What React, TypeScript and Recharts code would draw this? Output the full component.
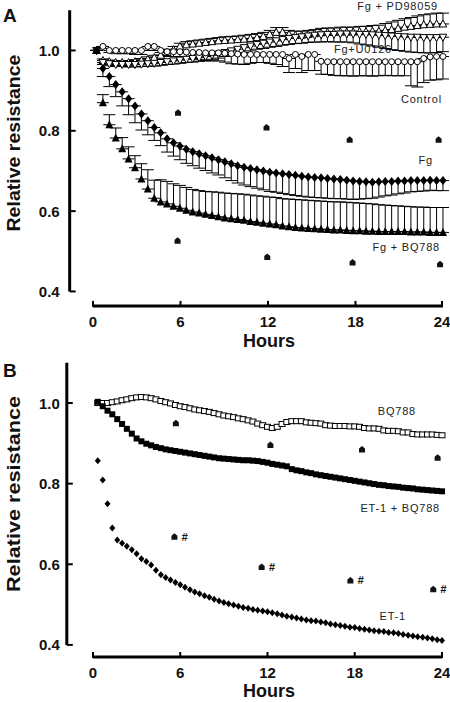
import { ScatterChart, Scatter, XAxis, YAxis, ErrorBar, ReferenceLine } from "recharts";

const FONT = "'Liberation Sans', Arial, sans-serif";

// ---- panel A: resistance readings (~every 26 min)
const hoursA = [
  0.24, 0.68, 1.12, 1.56, 2.0, 2.44, 2.88, 3.32, 3.76, 4.2,
  4.64, 5.08, 5.52, 5.96, 6.4, 6.84, 7.28, 7.72, 8.16, 8.6,
  9.04, 9.48, 9.92, 10.36, 10.8, 11.24, 11.68, 12.12, 12.56, 13.0,
  13.44, 13.88, 14.32, 14.76, 15.2, 15.64, 16.08, 16.52, 16.96, 17.4,
  17.84, 18.28, 18.72, 19.16, 19.6, 20.04, 20.48, 20.92, 21.36, 21.8,
  22.24, 22.68, 23.12, 23.56, 24.0,
];

const fgA = [
  1.0, 0.955, 0.935, 0.915, 0.897, 0.88, 0.862, 0.842, 0.825, 0.808,
  0.795, 0.78, 0.77, 0.762, 0.754, 0.748, 0.743, 0.738, 0.733, 0.728,
  0.723, 0.718, 0.713, 0.709, 0.706, 0.703, 0.7, 0.697, 0.695, 0.693,
  0.691, 0.689, 0.687, 0.685, 0.684, 0.683, 0.681, 0.68, 0.679, 0.677,
  0.675, 0.674, 0.673, 0.672, 0.673, 0.674, 0.674, 0.675, 0.675, 0.676,
  0.676, 0.676, 0.677, 0.676, 0.676,
];
const fgErrA = [
  0, 0.02, 0.025, 0.03, 0.035, 0.04, 0.042, 0.04, 0.035, 0.032,
  0.032, 0.033, 0.033, 0.034, 0.035, 0.035, 0.036, 0.037, 0.038, 0.038,
  0.04, 0.042, 0.043, 0.044, 0.045, 0.046, 0.047, 0.048, 0.048, 0.049,
  0.05, 0.05, 0.05, 0.05, 0.05, 0.05, 0.049, 0.049, 0.048, 0.047,
  0.046, 0.044, 0.042, 0.04, 0.038, 0.036, 0.034, 0.032, 0.03, 0.028,
  0.027, 0.026, 0.025, 0.025, 0.025,
];

const fgBqA = [
  1.0, 0.87, 0.815, 0.782, 0.755, 0.73, 0.708, 0.68, 0.655, 0.632,
  0.623, 0.618, 0.612, 0.607, 0.602, 0.598, 0.595, 0.592, 0.589, 0.586,
  0.583, 0.581, 0.579, 0.577, 0.574, 0.572, 0.57, 0.568, 0.566, 0.563,
  0.561, 0.559, 0.558, 0.557, 0.556, 0.555, 0.554, 0.553, 0.553, 0.552,
  0.551, 0.551, 0.55, 0.55, 0.549, 0.549, 0.549, 0.549, 0.549, 0.548,
  0.548, 0.548, 0.547, 0.547, 0.547,
];
const fgBqErrA = [
  0, 0.02, 0.025, 0.025, 0.028, 0.03, 0.03, 0.038, 0.048, 0.045,
  0.055, 0.056, 0.056, 0.057, 0.057, 0.056, 0.056, 0.057, 0.059, 0.061,
  0.062, 0.063, 0.064, 0.065, 0.066, 0.066, 0.067, 0.067, 0.068, 0.068,
  0.069, 0.07, 0.07, 0.07, 0.07, 0.07, 0.07, 0.07, 0.07, 0.07,
  0.07, 0.069, 0.069, 0.068, 0.067, 0.066, 0.065, 0.064, 0.063, 0.063,
  0.062, 0.062, 0.062, 0.062, 0.062,
];

const controlA = [
  1.0, 1.01, 1.0, 1.0, 1.0, 1.0, 1.0, 1.0, 1.01, 1.01,
  1.0, 0.997, 0.997, 0.997, 0.996, 0.995, 0.995, 0.994, 0.994, 0.994,
  0.993, 0.992, 0.991, 0.99, 0.99, 0.99, 0.99, 0.99, 0.99, 0.99,
  0.98, 0.99, 0.985, 0.99, 0.99, 0.973, 0.972, 0.972, 0.972, 0.972,
  0.972, 0.972, 0.972, 0.972, 0.972, 0.972, 0.972, 0.972, 0.972, 0.972,
  0.972, 0.98, 0.984, 0.985, 0.985,
];
const controlErrA = [
  0, 0.005, 0.005, 0.008, 0.008, 0.008, 0.01, 0.01, 0.01, 0.01,
  0.012, 0.012, 0.012, 0.012, 0.015, 0.015, 0.018, 0.02, 0.02, 0.02,
  0.022, 0.025, 0.025, 0.025, 0.022, 0.02, 0.02, 0.022, 0.025, 0.03,
  0.035, 0.035, 0.04, 0.04, 0.04, 0.032, 0.032, 0.034, 0.035, 0.035,
  0.036, 0.035, 0.035, 0.036, 0.035, 0.034, 0.035, 0.035, 0.035, 0.06,
  0.063, 0.06, 0.058, 0.058, 0.056,
];

const pdA = [
  1.0, 0.975, 0.972, 0.97, 0.97, 0.97, 0.972, 0.975, 0.978, 0.982,
  0.988, 0.995, 1.002, 1.01, 1.014, 1.016, 1.018, 1.02, 1.022, 1.024,
  1.025, 1.026, 1.027, 1.028, 1.03, 1.032, 1.035, 1.04, 1.045, 1.045,
  1.04, 1.038, 1.038, 1.04, 1.042, 1.044, 1.045, 1.045, 1.046, 1.046,
  1.046, 1.047, 1.047, 1.048, 1.048, 1.05, 1.052, 1.055, 1.058, 1.06,
  1.062, 1.064, 1.065, 1.066, 1.066,
];
const pdErrA = [
  0, 0.004, 0.004, 0.005, 0.005, 0.005, 0.005, 0.005, 0.006, 0.006,
  0.007, 0.008, 0.008, 0.008, 0.008, 0.008, 0.008, 0.008, 0.008, 0.008,
  0.009, 0.009, 0.009, 0.01, 0.01, 0.01, 0.01, 0.01, 0.012, 0.012,
  0.01, 0.01, 0.01, 0.01, 0.01, 0.011, 0.011, 0.011, 0.012, 0.012,
  0.012, 0.013, 0.013, 0.014, 0.015, 0.017, 0.019, 0.02, 0.021, 0.022,
  0.024, 0.025, 0.026, 0.027, 0.027,
];

const uoA = [
  1.0, 0.97, 0.967, 0.965, 0.965, 0.965, 0.965, 0.966, 0.967, 0.968,
  0.97, 0.972, 0.974, 0.976, 0.978, 0.98, 0.982, 0.985, 0.988, 0.991,
  0.995, 0.999, 1.003, 1.007, 1.011, 1.015, 1.018, 1.021, 1.024, 1.027,
  1.03, 1.032, 1.034, 1.036, 1.038, 1.039, 1.04, 1.04, 1.041, 1.041,
  1.041, 1.04, 1.04, 1.039, 1.038, 1.037, 1.036, 1.035, 1.034, 1.033,
  1.033, 1.032, 1.032, 1.032, 1.033,
];
const uoErrA = [
  0, 0.005, 0.005, 0.005, 0.005, 0.006, 0.006, 0.006, 0.006, 0.007,
  0.007, 0.007, 0.008, 0.008, 0.008, 0.009, 0.009, 0.01, 0.01, 0.01,
  0.01, 0.011, 0.011, 0.012, 0.012, 0.012, 0.013, 0.013, 0.014, 0.014,
  0.015, 0.015, 0.016, 0.016, 0.017, 0.018, 0.018, 0.019, 0.02, 0.02,
  0.022, 0.024, 0.026, 0.028, 0.03, 0.032, 0.034, 0.035, 0.036, 0.037,
  0.038, 0.038, 0.038, 0.037, 0.036,
];

// significance marks, panel A
const starHoursA = [5.83, 11.9, 17.6, 23.7];
const starFgA = [0.845, 0.808, 0.778, 0.778];
const starBqHoursA = [5.8, 11.95, 17.8, 23.8];
const starBqA = [0.526, 0.486, 0.472, 0.468];

// ---- panel B: readings every 20 min
const hoursB = [
  0.33, 0.67, 1, 1.33, 1.67, 2, 2.33, 2.67, 3, 3.33, 3.67, 4,
  4.33, 4.67, 5, 5.33, 5.67, 6, 6.33, 6.67, 7, 7.33, 7.67, 8,
  8.33, 8.67, 9, 9.33, 9.67, 10, 10.33, 10.67, 11, 11.33, 11.67, 12,
  12.33, 12.67, 13, 13.33, 13.67, 14, 14.33, 14.67, 15, 15.33, 15.67, 16,
  16.33, 16.67, 17, 17.33, 17.67, 18, 18.33, 18.67, 19, 19.33, 19.67, 20,
  20.33, 20.67, 21, 21.33, 21.67, 22, 22.33, 22.67, 23, 23.33, 23.67, 24,
];

const bq788B = [
  1.0, 1.0, 1.0, 1.002, 1.004, 1.007, 1.009, 1.012, 1.014, 1.015, 1.014, 1.012,
  1.009, 1.005, 1.002, 0.999, 0.995, 0.992, 0.99, 0.987, 0.984, 0.982, 0.98, 0.978,
  0.975, 0.972, 0.969, 0.967, 0.965, 0.962, 0.96, 0.957, 0.954, 0.949, 0.945, 0.941,
  0.938, 0.941, 0.948, 0.953, 0.955, 0.955, 0.955, 0.952, 0.951, 0.95, 0.949, 0.945,
  0.944, 0.943, 0.943, 0.943, 0.942, 0.942, 0.941, 0.938, 0.937, 0.937, 0.936, 0.932,
  0.931, 0.931, 0.93, 0.927, 0.927, 0.923, 0.922, 0.922, 0.922, 0.922, 0.921, 0.92,
];

const et1Bq788B = [
  1.003, 0.992, 0.981, 0.972, 0.96, 0.948, 0.936, 0.924, 0.912, 0.905, 0.899, 0.895,
  0.891, 0.888, 0.885, 0.883, 0.881, 0.879, 0.877, 0.875, 0.873, 0.871, 0.869, 0.867,
  0.865, 0.863, 0.862, 0.861, 0.86, 0.859, 0.858, 0.858, 0.857, 0.856, 0.854, 0.852,
  0.849, 0.847, 0.845, 0.843, 0.836, 0.833, 0.831, 0.828, 0.826, 0.823, 0.821, 0.819,
  0.817, 0.815, 0.813, 0.811, 0.809, 0.807, 0.805, 0.803, 0.801, 0.799, 0.797, 0.796,
  0.794, 0.793, 0.792, 0.79, 0.789, 0.788, 0.786, 0.785, 0.784, 0.783, 0.782, 0.781,
];

const et1B = [
  0.857, 0.809, 0.75, 0.69, 0.66, 0.652, 0.645, 0.636, 0.626, 0.614, 0.607, 0.598,
  0.585, 0.574, 0.567, 0.561, 0.555, 0.549, 0.543, 0.537, 0.531, 0.527, 0.522, 0.518,
  0.513, 0.509, 0.505, 0.502, 0.499, 0.496, 0.493, 0.491, 0.488, 0.486, 0.484, 0.482,
  0.48, 0.477, 0.474, 0.471, 0.469, 0.467, 0.464, 0.462, 0.46, 0.459, 0.457, 0.455,
  0.452, 0.45, 0.448, 0.446, 0.444, 0.443, 0.441, 0.439, 0.437, 0.435, 0.434, 0.433,
  0.431, 0.43, 0.428, 0.426, 0.424, 0.422, 0.42, 0.419, 0.417, 0.415, 0.413, 0.411,
];

const starHoursB = [5.7, 12.2, 18.5, 23.7];
const starBqB = [0.95, 0.896, 0.885, 0.864];
const starHashHoursB = [5.6, 11.6, 17.7, 23.4];
const starHashB = [0.668, 0.593, 0.56, 0.538];

const yTicks = [0.4, 0.6, 0.8, 1.0];
const xTicks = [0, 6, 12, 18, 24];

// rows for recharts: e = [down, up]
const rows = (ts: number[], vs: number[], down?: number[], up?: number[]) =>
  ts.map((t, i) => ({ t, v: vs[i], e: [down ? down[i] : 0, up ? up[i] : 0] }));

// marker shapes
const openCircle = (p: any) => <circle cx={p.cx} cy={p.cy} r={3} fill="#fff" stroke="#000" strokeWidth={1} />;
const openUp = (p: any) => (
  <path d={`M${p.cx},${p.cy - 4}L${p.cx + 3.8},${p.cy + 3}L${p.cx - 3.8},${p.cy + 3}Z`} fill="#fff" stroke="#000" strokeWidth={1} />
);
const openDown = (p: any) => (
  <path d={`M${p.cx},${p.cy + 4}L${p.cx + 3.8},${p.cy - 3}L${p.cx - 3.8},${p.cy - 3}Z`} fill="#fff" stroke="#000" strokeWidth={1} />
);
const fillDiamond = (p: any) => (
  <path d={`M${p.cx},${p.cy - 4.5}L${p.cx + 3.6},${p.cy}L${p.cx},${p.cy + 4.5}L${p.cx - 3.6},${p.cy}Z`} fill="#000" />
);
const fillUp = (p: any) => (
  <path d={`M${p.cx},${p.cy - 4.5}L${p.cx + 4},${p.cy + 3.5}L${p.cx - 4},${p.cy + 3.5}Z`} fill="#000" />
);
const openSquare = (p: any) => <rect x={p.cx - 3} y={p.cy - 2.5} width={6} height={5} fill="#fff" stroke="#000" strokeWidth={1} />;
const fillSquare = (p: any) => <rect x={p.cx - 3} y={p.cy - 3} width={6} height={6} fill="#000" />;
const smallDiamond = (p: any) => (
  <path d={`M${p.cx},${p.cy - 3.5}L${p.cx + 3},${p.cy}L${p.cx},${p.cy + 3.5}L${p.cx - 3},${p.cy}Z`} fill="#000" />
);
const star = (p: any) => (
  <path d={`M${p.cx - 3},${p.cy + 3}V${p.cy - 1}L${p.cx},${p.cy - 3.5}L${p.cx + 3},${p.cy - 1}V${p.cy + 3}Z`} fill="#111" />
);
const starHash = (p: any) => (
  <g>
    {star(p)}
    <text x={p.cx + 7} y={p.cy + 4} fontSize={11} fontWeight="bold" fontStyle="italic" fontFamily={FONT} fill="#111">
      #
    </text>
  </g>
);

const makeXTick = (below: number) => (p: any) => (
  <g>
    <line x1={p.x} x2={p.x} y1={p.y - 5} y2={p.y + 1} stroke="#000" strokeWidth={2} />
    <text x={p.x} y={p.y + below} textAnchor="middle" fontSize={15} fontWeight="bold" fontFamily={FONT} fill="#111">
      {p.payload.value}
    </text>
  </g>
);
const makeYTick = (gap: number) => (p: any) => (
  <g>
    <line x1={p.x} x2={p.x + 6} y1={p.y} y2={p.y} stroke="#000" strokeWidth={2} />
    <text x={p.x - gap} y={p.y + 5.5} textAnchor="end" fontSize={15} fontWeight="bold" fontFamily={FONT} fill="#111">
      {Number(p.payload.value).toFixed(1)}
    </text>
  </g>
);

const lbl = { fontSize: 11, fontFamily: FONT, fill: "#222", letterSpacing: 0.8 } as const;
const bold = { fontWeight: "bold", fontFamily: FONT, fill: "#111" } as const;

const errBar = (key: string) => (
  <ErrorBar dataKey={key} direction="y" width={6} stroke="#000" strokeWidth={1} isAnimationActive={false} />
);

function PanelA() {
  const yMin = 0.364;
  const xMin = -1.6;
  return (
    <ScatterChart width={450} height={350} margin={{ top: 10.3, right: 4.1, bottom: 0, left: 9.67 }}>
      <XAxis
        type="number"
        dataKey="t"
        domain={[xMin, 24.2]}
        ticks={xTicks}
        axisLine={false}
        tickLine={false}
        tickSize={0}
        tickMargin={0}
        height={44.1}
        tick={makeXTick(21.5)}
      />
      <YAxis
        type="number"
        dataKey="v"
        domain={[yMin, 1.1]}
        ticks={yTicks}
        axisLine={false}
        tickLine={false}
        tickSize={0}
        tickMargin={0}
        width={60}
        tick={makeYTick(10)}
      />
      <ReferenceLine segment={[{ x: xMin, y: 0.4 }, { x: xMin, y: 1.1 }]} stroke="#000" strokeWidth={3} ifOverflow="visible" />
      <ReferenceLine segment={[{ x: 0, y: yMin }, { x: 24, y: yMin }]} stroke="#000" strokeWidth={3} ifOverflow="visible" />

      <Scatter data={rows(hoursA, pdA, undefined, pdErrA)} shape={openUp} isAnimationActive={false}>
        {errBar("e")}
      </Scatter>
      <Scatter data={rows(hoursA, uoA, uoErrA)} shape={openDown} isAnimationActive={false}>
        {errBar("e")}
      </Scatter>
      <Scatter data={rows(hoursA, controlA, controlErrA)} shape={openCircle} isAnimationActive={false}>
        {errBar("e")}
      </Scatter>
      <Scatter data={rows(hoursA, fgA, fgErrA)} shape={fillDiamond} isAnimationActive={false}>
        {errBar("e")}
      </Scatter>
      <Scatter data={rows(hoursA, fgBqA, undefined, fgBqErrA)} shape={fillUp} isAnimationActive={false}>
        {errBar("e")}
      </Scatter>
      <Scatter data={rows(starHoursA, starFgA)} shape={star} isAnimationActive={false} />
      <Scatter data={rows(starBqHoursA, starBqA)} shape={star} isAnimationActive={false} />

      <text x={3} y={22} fontSize={19} {...bold}>A</text>
      <text transform="translate(19.5,143) rotate(-90)" textAnchor="middle" fontSize={19} textLength={177} lengthAdjust="spacingAndGlyphs" {...bold}>
        Relative resistance
      </text>
      <text x={269} y={347} textAnchor="middle" fontSize={18} {...bold}>Hours</text>
      <text x={438} y={10} textAnchor="end" {...lbl}>Fg + PD98059</text>
      <text x={392} y={53} textAnchor="end" {...lbl}>Fg+U0126</text>
      <text x={442} y={103} textAnchor="end" {...lbl}>Control</text>
      <text x={433} y={164} textAnchor="end" {...lbl}>Fg</text>
      <text x={440} y={251} textAnchor="end" {...lbl}>Fg + BQ788</text>
    </ScatterChart>
  );
}

function PanelB() {
  const yMin = 0.37;
  const xMin = -1.8;
  return (
    <ScatterChart width={450} height={352} margin={{ top: 12.7, right: 5.1, bottom: 0, left: 6.8 }}>
      <XAxis
        type="number"
        dataKey="t"
        domain={[xMin, 24.2]}
        ticks={xTicks}
        axisLine={false}
        tickLine={false}
        tickSize={0}
        tickMargin={0}
        height={45}
        tick={makeXTick(21)}
      />
      <YAxis
        type="number"
        dataKey="v"
        domain={[yMin, 1.1]}
        ticks={yTicks}
        axisLine={false}
        tickLine={false}
        tickSize={0}
        tickMargin={0}
        width={60}
        tick={makeYTick(7)}
      />
      <ReferenceLine segment={[{ x: xMin, y: 0.4 }, { x: xMin, y: 1.1 }]} stroke="#000" strokeWidth={3} ifOverflow="visible" />
      <ReferenceLine segment={[{ x: 0, y: yMin }, { x: 24, y: yMin }]} stroke="#000" strokeWidth={3} ifOverflow="visible" />

      <Scatter data={rows(hoursB, bq788B)} shape={openSquare} isAnimationActive={false} />
      <Scatter data={rows(hoursB, et1Bq788B)} shape={fillSquare} isAnimationActive={false} />
      <Scatter data={rows(hoursB, et1B)} shape={smallDiamond} isAnimationActive={false} />
      <Scatter data={rows(starHoursB, starBqB)} shape={star} isAnimationActive={false} />
      <Scatter data={rows(starHashHoursB, starHashB)} shape={starHash} isAnimationActive={false} />

      <text x={3} y={27} fontSize={19} {...bold}>B</text>
      <text transform="translate(19.5,144) rotate(-90)" textAnchor="middle" fontSize={19} textLength={196} lengthAdjust="spacingAndGlyphs" {...bold}>
        Relative resistance
      </text>
      <text x={269} y={347} textAnchor="middle" fontSize={18} {...bold}>Hours</text>
      <text x={416} y={65} textAnchor="end" {...lbl}>BQ788</text>
      <text x={440} y={162} textAnchor="end" {...lbl}>ET-1 + BQ788</text>
      <text x={406} y={270} textAnchor="end" {...lbl}>ET-1</text>
    </ScatterChart>
  );
}

export default function App() {
  return (
    <div style={{ position: "absolute", left: 0, top: 0, width: 450, height: 702, background: "#fff", overflow: "hidden" }}>
      <div style={{ position: "absolute", left: 0, top: 0 }}>
        <PanelA />
      </div>
      <div style={{ position: "absolute", left: 0, top: 350 }}>
        <PanelB />
      </div>
    </div>
  );
}
